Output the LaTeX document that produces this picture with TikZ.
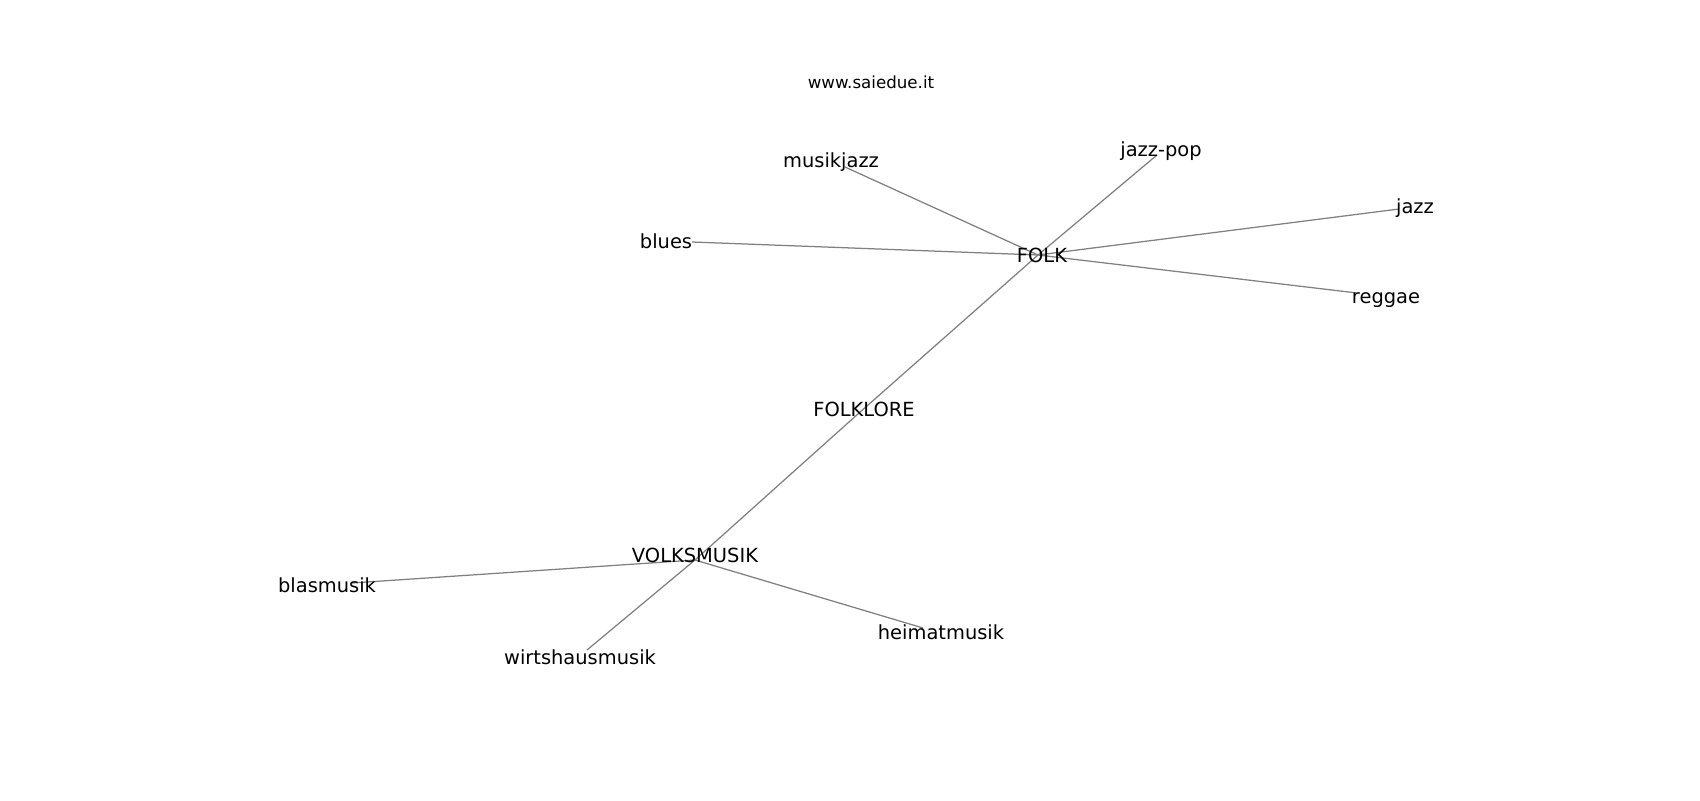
\documentclass[tikz,border=0pt]{standalone}
\usepackage{fontspec}
\setmainfont{DejaVu Sans}
\usepackage{tikz}

\begin{document}
\begin{tikzpicture}[x=0.72pt, y=-0.72pt,
		word/.style={font=\fontsize{14}{16}\selectfont, inner sep=0pt, anchor=base},
		link/.style={draw=gray, line width=0.9pt}]
					\useasboundingbox (0, 0) rectangle (1700, 800);
					% graph points
					\coordinate (p-folk) at (1038, 255);
					\coordinate (p-folklore) at (859, 413);
					\coordinate (p-volksmusik) at (695, 560);
					\coordinate (p-musikjazz) at (845, 167);
					\coordinate (p-jazzpop) at (1157, 155);
					\coordinate (p-jazz) at (1399, 209);
					\coordinate (p-blues) at (692, 242);
					\coordinate (p-reggae) at (1357, 293);
					\coordinate (p-blasmusik) at (352, 583);
					\coordinate (p-heimatmusik) at (923, 628);
					\coordinate (p-wirtshausmusik) at (587, 650);
					
					\draw[link] (p-folk) -- (p-musikjazz);
					\draw[link] (p-folk) -- (p-jazzpop);
					\draw[link] (p-folk) -- (p-jazz);
					\draw[link] (p-folk) -- (p-blues);
					\draw[link] (p-folk) -- (p-reggae);
					\draw[link] (p-folk) -- (p-folklore);
					\draw[link] (p-folklore) -- (p-volksmusik);
					\draw[link] (p-volksmusik) -- (p-blasmusik);
					\draw[link] (p-volksmusik) -- (p-heimatmusik);
					\draw[link] (p-volksmusik) -- (p-wirtshausmusik);
					
					% labels
					\node[word, font=\fontsize{12}{14}\selectfont] (site) at (871, 88) {www.saiedue.it};
					\node[word] (musikjazz) at (831, 167) {musikjazz};
					\node[word] (jazzpop) at (1161, 156) {jazz-pop};
					\node[word] (jazz) at (1415, 213) {jazz};
					\node[word] (blues) at (666, 248) {blues};
					\node[word] (folk) at (1042, 262) {FOLK};
					\node[word] (reggae) at (1386, 303) {reggae};
					\node[word] (folklore) at (864, 416) {FOLKLORE};
					\node[word] (volksmusik) at (695, 562) {VOLKSMUSIK};
					\node[word] (blasmusik) at (327, 592) {blasmusik};
					\node[word] (heimatmusik) at (941, 639) {heimatmusik};
					\node[word] (wirtshausmusik) at (580, 664) {wirtshausmusik};
				\end{tikzpicture}
\end{document}
